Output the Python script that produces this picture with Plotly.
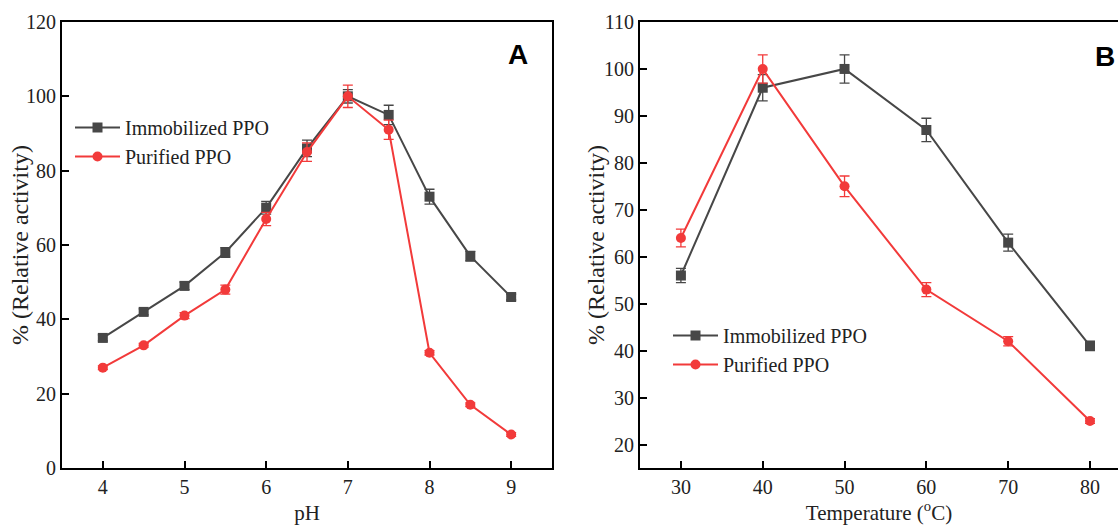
import plotly.graph_objects as go

# Panel A data
ph = [4, 4.5, 5, 5.5, 6, 6.5, 7, 7.5, 8, 8.5, 9]
ph_immob = [35, 42, 49, 58, 70, 86, 100, 95, 73, 57, 46]
ph_immob_err = [0.8, 0.8, 1.0, 1.3, 1.7, 2.2, 1.8, 2.6, 2.0, 1.3, 0.8]
ph_purif = [27, 33, 41, 48, 67, 85, 100, 91, 31, 17, 9]
ph_purif_err = [0.5, 0.5, 0.8, 1.2, 1.8, 2.5, 3.0, 2.6, 0.6, 0.5, 0.5]

# Panel B data
temp = [30, 40, 50, 60, 70, 80]
t_immob = [56, 96, 100, 87, 63, 41]
t_immob_err = [1.5, 2.8, 3.0, 2.5, 1.8, 1.0]
t_purif = [64, 100, 75, 53, 42, 25]
t_purif_err = [1.9, 3.0, 2.2, 1.5, 1.0, 0.5]

ph_ticks = [4, 5, 6, 7, 8, 9]
temp_ticks = [30, 40, 50, 60, 70, 80]

GRAY = "#474747"
RED = "#F23A3A"
FONT = "Liberation Serif"
W, H = 1118, 525

fig = go.Figure()

def add_series(x, y, err, name, color, symbol, xa, ya):
    fig.add_trace(go.Scatter(
        x=x, y=y, name=name, mode="lines+markers",
        line=dict(color=color, width=2),
        marker=dict(color=color, symbol=symbol, size=10),
        error_y=dict(type="data", array=err, visible=True, color=color,
                     thickness=1.3, width=5),
        xaxis=xa, yaxis=ya, legend="legend" if xa == "x" else "legend2",
    ))

add_series(ph, ph_immob, ph_immob_err, "Immobilized PPO", GRAY, "square", "x", "y")
add_series(ph, ph_purif, ph_purif_err, "Purified PPO", RED, "circle", "x", "y")
add_series(temp, t_immob, t_immob_err, "Immobilized PPO", GRAY, "square", "x2", "y2")
add_series(temp, t_purif, t_purif_err, "Purified PPO", RED, "circle", "x2", "y2")

axis_common = dict(
    showline=True, linecolor="black", linewidth=2, mirror=True,
    ticks="inside", ticklen=7, tickwidth=2, tickcolor="black",
    showgrid=False, zeroline=False, automargin=False,
    tickfont=dict(family=FONT, size=20, color="#222"),
)

xa_dom = [62 / W, 552 / W]
xb_dom = [640 / W, 1.0]
y_dom = [1 - 468 / H, 1 - 22 / H]
xtitle_font = dict(family=FONT, size=21, color="#222")
ytitle_font = dict(family=FONT, size=24, color="#222")
legend_font = dict(family=FONT, size=20, color="#222")

def paper_ann(text, px, py, font, angle=0):
    return dict(text=text, x=px / W, y=1 - py / H, xref="paper", yref="paper",
                xanchor="center", yanchor="middle", showarrow=False,
                textangle=angle, font=font)

fig.update_layout(
    width=W, height=H,
    margin=dict(l=0, r=0, t=0, b=0, autoexpand=False),
    paper_bgcolor="white", plot_bgcolor="white",
    font=dict(family=FONT, color="#222"),
    xaxis=dict(domain=xa_dom, range=[3.5, 9.5], tickvals=ph_ticks,
               title=dict(text="pH", font=xtitle_font),
               anchor="y", **axis_common),
    yaxis=dict(domain=y_dom, range=[0, 120], dtick=20, anchor="x", **axis_common),
    xaxis2=dict(domain=xb_dom, range=[25, 80 + 28 / 8.18], tickvals=temp_ticks,
                title=dict(text="Temperature (<sup>o</sup>C)", font=xtitle_font),
                anchor="y2", **axis_common),
    yaxis2=dict(domain=y_dom, range=[15, 110], dtick=10, anchor="x2", **axis_common),
    legend=dict(x=70 / W, y=1 - 108 / H, xanchor="left", yanchor="top",
                bgcolor="rgba(0,0,0,0)", font=legend_font,
                tracegroupgap=0, itemwidth=45),
    legend2=dict(x=668 / W, y=1 - 316 / H, xanchor="left", yanchor="top",
                 bgcolor="rgba(0,0,0,0)", font=legend_font,
                 tracegroupgap=0, itemwidth=45),
    annotations=[
        paper_ann("% (Relative activity)", 20, 245, ytitle_font, -90),
        paper_ann("% (Relative activity)", 596, 245, ytitle_font, -90),
        paper_ann("<b>A</b>", 518, 54, dict(family="Liberation Sans", size=28, color="black")),
        paper_ann("<b>B</b>", 1105, 56, dict(family="Liberation Sans", size=28, color="black")),
    ],
)

fig.write_html("out.html")
